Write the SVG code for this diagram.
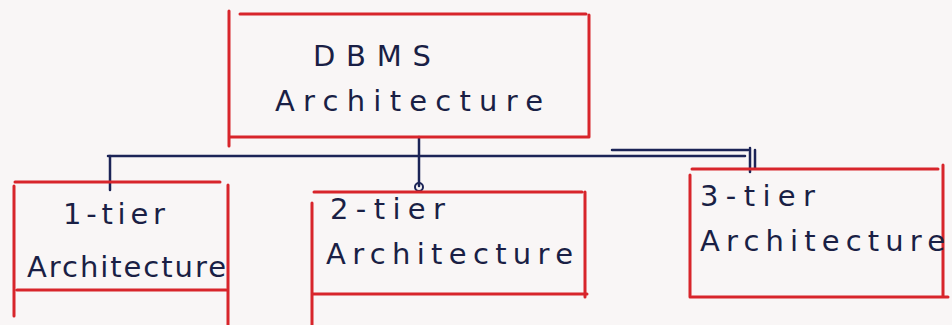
<svg xmlns="http://www.w3.org/2000/svg" width="952" height="325" viewBox="0 0 952 325">
<style>
.box{fill:none;stroke:#d8252b;stroke-width:3;stroke-linecap:round}
.conn{fill:none;stroke:#1c2457;stroke-width:2.5;stroke-linecap:round}
.t{font-family:"DejaVu Sans","Liberation Sans",sans-serif;font-size:29px;fill:#1a1f45}
</style>
<rect width="952" height="325" fill="#f9f6f6"/>
<g id="connectors">
<path class="conn" d="M419 137 V186"/>
<circle cx="419" cy="187" r="4" fill="none" stroke="#1c2457" stroke-width="2"/>
<path class="conn" d="M108 156 H745"/>
<path class="conn" d="M612 150 H748"/>
<path class="conn" d="M110 156 V190"/>
<path class="conn" d="M750 148 V172"/>
<path class="conn" d="M755 150 V168"/>
</g>
<g id="dbms">
<path class="box" d="M240 14 H586 M229 11 V146 M229 137 H588 M589 15 V137"/>
<text class="t" x="313" y="66" textLength="118" lengthAdjust="spacing">DBMS</text>
<text class="t" x="275" y="111" textLength="268" lengthAdjust="spacing">Architecture</text>
</g>
<g id="tier1">
<path class="box" d="M15 182 H220 M14 186 V316 M17 290 H226 M228 185 V325"/>
<text class="t" x="63" y="224" textLength="102" lengthAdjust="spacing">1-tier</text>
<text class="t" x="27" y="277" textLength="199" lengthAdjust="spacing">Architecture</text>
</g>
<g id="tier2">
<path class="box" d="M314 192 H582 M312 203 V325 M313 294 H587 M585 192 V297"/>
<text class="t" x="330" y="219" textLength="115" lengthAdjust="spacing">2-tier</text>
<text class="t" x="326" y="264" textLength="247" lengthAdjust="spacing">Architecture</text>
</g>
<g id="tier3">
<path class="box" d="M692 169 H938 M690 175 V297 M692 297 H948 M943 165 V297"/>
<text class="t" x="700" y="206" textLength="115" lengthAdjust="spacing">3-tier</text>
<text class="t" x="700" y="251" textLength="245" lengthAdjust="spacing">Architecture</text>
</g>
</svg>
